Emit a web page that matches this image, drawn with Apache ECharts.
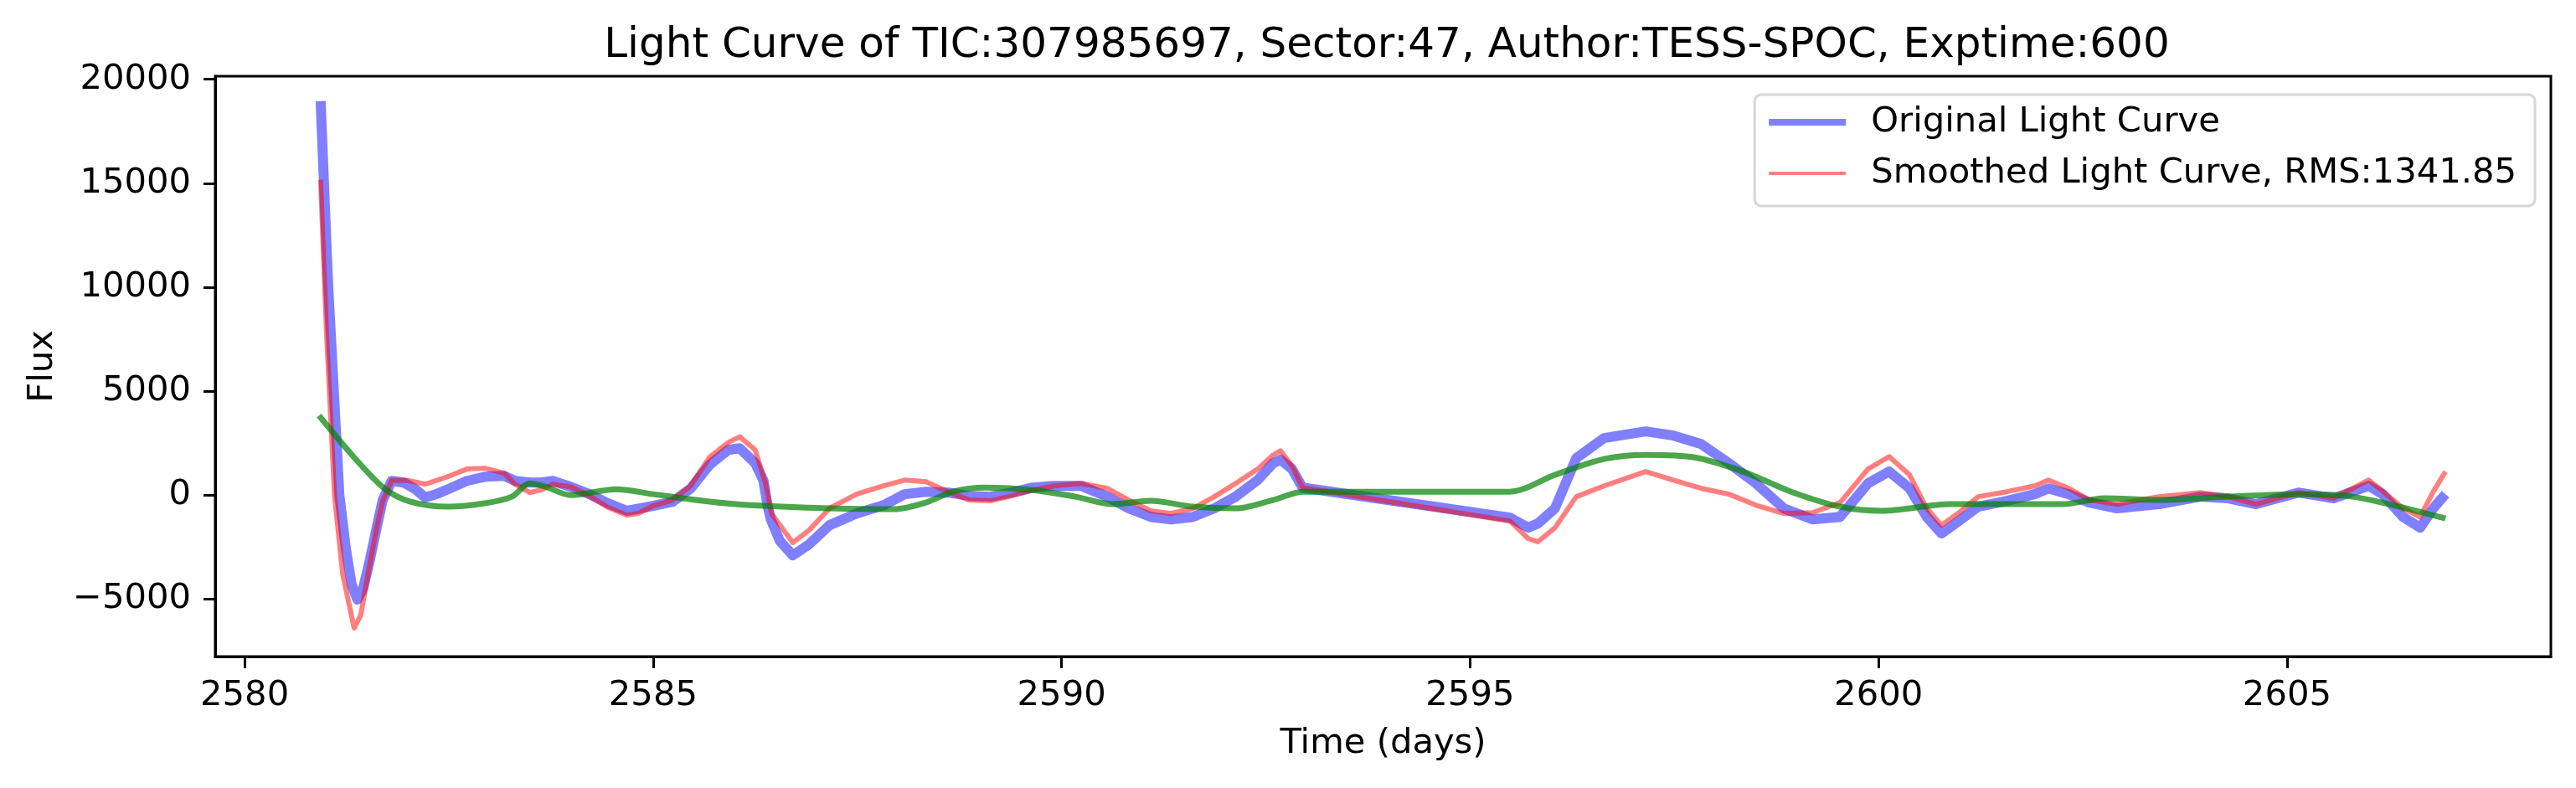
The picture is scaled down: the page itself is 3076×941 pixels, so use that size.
<!DOCTYPE html>
<html>
<head>
<meta charset="utf-8">
<script src="https://cdn.jsdelivr.net/npm/echarts@6/dist/echarts.min.js"></script>
<style>
  html, body { margin: 0; padding: 0; background: #fff; }
  #chart { width: 3076px; height: 941px; }
</style>
</head>
<body>
<div id="chart"></div>
<script>
// values
const origTime = [2580.93, 2581.02, 2581.12, 2581.16, 2581.24, 2581.31, 2581.38, 2581.45, 2581.53, 2581.62,
  2581.69, 2581.80, 2581.95, 2582.10, 2582.21, 2582.35, 2582.49, 2582.72, 2582.94, 2583.18,
  2583.31, 2583.49, 2583.63, 2583.77, 2583.99, 2584.22, 2584.45, 2584.68, 2584.82, 2585.00,
  2585.24, 2585.46, 2585.69, 2585.92, 2586.06, 2586.25, 2586.35, 2586.40, 2586.44, 2586.55,
  2586.71, 2586.91, 2587.16, 2587.49, 2587.82, 2588.08, 2588.34, 2588.61, 2588.87, 2589.13,
  2589.39, 2589.65, 2589.91, 2590.24, 2590.56, 2590.82, 2591.09, 2591.34, 2591.61, 2591.87,
  2592.13, 2592.40, 2592.59, 2592.68, 2592.82, 2592.95, 2595.49, 2595.71, 2595.83, 2596.04,
  2596.30, 2596.64, 2597.15, 2597.49, 2597.83, 2598.17, 2598.50, 2598.84, 2599.19, 2599.53,
  2599.87, 2600.13, 2600.38, 2600.59, 2600.77, 2600.97, 2601.22, 2601.57, 2601.91, 2602.08,
  2602.33, 2602.58, 2602.92, 2603.43, 2603.94, 2604.28, 2604.62, 2605.14, 2605.57, 2606.00,
  2606.17, 2606.42, 2606.63, 2606.79, 2606.94];
const origFlux = [18950, 10300, 2900, 0, -2600, -4300, -5030, -4500, -3180, -1500,
  -240, 680, 600, 250, -120, 50, 280, 680, 880, 920,
  680, 600, 600, 680, 400, 40, -400, -760, -660, -520,
  -320, 320, 1450, 2170, 2250, 1530, 700, -490, -1170, -2200,
  -2900, -2370, -1450, -890, -490, 40, 160, 120, -40, -80,
  120, 360, 440, 440, -80, -640, -1050, -1170, -1050, -640,
  -80, 720, 1530, 1700, 1250, 360, -1090, -1570, -1370, -640,
  1770, 2740, 3060, 2860, 2450, 1530, 560, -640, -1170, -1050,
  560, 1130, 320, -1050, -1850, -1290, -560, -280, 40, 320,
  40, -360, -640, -440, -80, -160, -440, 120, -160, 440,
  40, -1050, -1570, -640, 40];

const smoothTime = [2580.93, 2581.00, 2581.10, 2581.20, 2581.34, 2581.42, 2581.53, 2581.62, 2581.69, 2581.80,
  2582.00, 2582.21, 2582.49, 2582.72, 2582.94, 2583.18, 2583.31, 2583.49, 2583.63, 2583.77,
  2583.99, 2584.22, 2584.45, 2584.68, 2584.82, 2585.00, 2585.24, 2585.46, 2585.69, 2585.92,
  2586.06, 2586.25, 2586.38, 2586.45, 2586.71, 2586.91, 2587.16, 2587.49, 2587.82, 2588.08,
  2588.34, 2588.61, 2588.87, 2589.13, 2589.39, 2589.65, 2589.91, 2590.24, 2590.56, 2590.82,
  2591.09, 2591.34, 2591.61, 2591.87, 2592.13, 2592.40, 2592.59, 2592.68, 2592.82, 2592.95,
  2595.49, 2595.71, 2595.83, 2596.04, 2596.30, 2596.64, 2597.15, 2597.49, 2597.83, 2598.17,
  2598.50, 2598.84, 2599.19, 2599.53, 2599.87, 2600.13, 2600.38, 2600.59, 2600.77, 2600.97,
  2601.22, 2601.57, 2601.91, 2602.08, 2602.33, 2602.58, 2602.92, 2603.43, 2603.94, 2604.28,
  2604.62, 2605.14, 2605.57, 2606.00, 2606.17, 2606.42, 2606.63, 2606.79, 2606.94];
const smoothFlux = [15170, 8000, 0, -3800, -6400, -5800, -3400, -1500, -300, 700,
  700, 520, 890, 1250, 1290, 1050, 520, 120, 240, 520,
  400, -40, -600, -970, -880, -520, -240, 450, 1810, 2530,
  2800, 2170, 500, -900, -2290, -1690, -640, 40, 440, 720,
  640, 160, -240, -280, -40, 240, 440, 560, 320, -240,
  -760, -890, -640, -80, 560, 1250, 1930, 2130, 1400, 360,
  -1250, -2090, -2250, -1570, -80, 440, 1130, 720, 320, 40,
  -490, -890, -850, -360, 1250, 1850, 970, -640, -1450, -890,
  -80, 160, 440, 720, 320, -240, -440, -80, 120, -80,
  -440, 120, -160, 720, 200, -640, -1050, 160, 1130];

const trendTime = [2580.91, 2581.34, 2581.71, 2582.03, 2582.49, 2582.94, 2583.27, 2583.49, 2583.68, 2583.99,
  2584.55, 2585.00, 2585.69, 2586.19, 2587.16, 2587.95, 2588.34, 2588.67, 2589.06, 2589.65,
  2590.17, 2590.63, 2591.09, 2591.61, 2592.13, 2592.59, 2592.95, 2595.49, 2596.04, 2596.64,
  2597.15, 2597.75, 2598.34, 2598.93, 2599.53, 2600.04, 2600.88, 2601.74, 2602.25, 2602.76,
  2603.43, 2604.28, 2605.14, 2605.73, 2606.25, 2606.94];
const trendFlux = [3820, 1810, 320, -320, -560, -400, -80, 560, 400, 0,
  280, 40, -320, -490, -640, -680, -360, 160, 360, 240,
  -80, -440, -280, -560, -640, -240, 160, 160, 970, 1730,
  1930, 1810, 1130, 160, -560, -760, -440, -440, -440, -160,
  -240, -80, 40, -40, -440, -1130];

const xTicks = [2580, 2585, 2590, 2595, 2600, 2605];
const yTicks = [-5000, 0, 5000, 10000, 15000, 20000];

const titleText = 'Light Curve of TIC:307985697, Sector:47, Author:TESS-SPOC, Exptime:600';
const origName = 'Original Light Curve';
const smoothName = 'Smoothed Light Curve, RMS:1341.85';

const pairs = (ts, vs) => ts.map((t, i) => [t, vs[i]]);
const font = 'DejaVu Sans';
const fs = 41.7;

const chart = echarts.init(document.getElementById('chart'));

chart.setOption({
  animation: false,
  backgroundColor: '#fff',
  textStyle: { fontFamily: font },
  title: {
    text: titleText,
    left: 1651,
    top: 25,
    textAlign: 'center',
    textStyle: { fontFamily: font, fontSize: 50, fontWeight: 'normal', color: '#000' }
  },
  legend: {
    right: 49,
    top: 113,
    orient: 'vertical',
    data: [
      { name: origName, lineStyle: { width: 8 } },
      { name: smoothName, lineStyle: { width: 4 } }
    ],
    itemWidth: 92,
    itemHeight: 10,
    itemGap: 19,
    itemStyle: { opacity: 0 },
    padding: [12, 22, 18, 13],
    borderColor: '#d6d6d6',
    borderWidth: 3,
    borderRadius: 8,
    backgroundColor: 'rgba(255,255,255,0.8)',
    textStyle: { fontFamily: font, fontSize: fs, color: '#000', lineHeight: 42, padding: [0, 0, 0, 25] }
  },
  grid: {
    left: 257, right: 30, top: 91, bottom: 157,
    show: true, borderColor: '#000', borderWidth: 3
  },
  xAxis: {
    type: 'value',
    min: 2579.64,
    max: 2608.23,
    name: 'Time (days)',
    nameLocation: 'middle',
    nameGap: 83,
    nameTextStyle: { fontFamily: font, fontSize: fs, color: '#000' },
    axisLine: { show: true, onZero: false, lineStyle: { color: '#000', width: 3 } },
    axisTick: { show: true, length: 14, customValues: xTicks, lineStyle: { color: '#000', width: 3 } },
    axisLabel: {
      customValues: xTicks, margin: 26, fontFamily: font, fontSize: fs, color: '#000',
      formatter: v => String(v)
    },
    splitLine: { show: false }
  },
  yAxis: {
    type: 'value',
    min: -7770,
    max: 20150,
    name: 'Flux',
    nameLocation: 'middle',
    nameRotate: 90,
    nameGap: 185,
    nameTextStyle: { fontFamily: font, fontSize: fs, color: '#000' },
    axisLine: { show: true, onZero: false, lineStyle: { color: '#000', width: 3 } },
    axisTick: { show: true, length: 14, customValues: yTicks, lineStyle: { color: '#000', width: 3 } },
    axisLabel: {
      customValues: yTicks, margin: 29, fontFamily: font, fontSize: fs, color: '#000',
      formatter: v => String(v).replace('-', '\u2212')
    },
    splitLine: { show: false }
  },
  series: [
    {
      name: origName,
      type: 'line',
      data: pairs(origTime, origFlux),
      showSymbol: false,
      symbol: 'none',
      lineStyle: { color: 'rgba(0,0,255,0.5)', width: 12, join: 'round' },
      itemStyle: { color: 'rgba(0,0,255,0.5)' }
    },
    {
      name: smoothName,
      type: 'line',
      data: pairs(smoothTime, smoothFlux),
      showSymbol: false,
      symbol: 'none',
      lineStyle: { color: 'rgba(255,0,0,0.5)', width: 6, join: 'round' },
      itemStyle: { color: 'rgba(255,0,0,0.5)' }
    },
    {
      name: 'trend',
      type: 'line',
      data: pairs(trendTime, trendFlux),
      showSymbol: false,
      symbol: 'none',
      smooth: 0.3,
      lineStyle: { color: 'rgba(0,128,0,0.7)', width: 7 },
      itemStyle: { color: 'rgba(0,128,0,0.7)' }
    }
  ]
});
</script>
</body>
</html>
